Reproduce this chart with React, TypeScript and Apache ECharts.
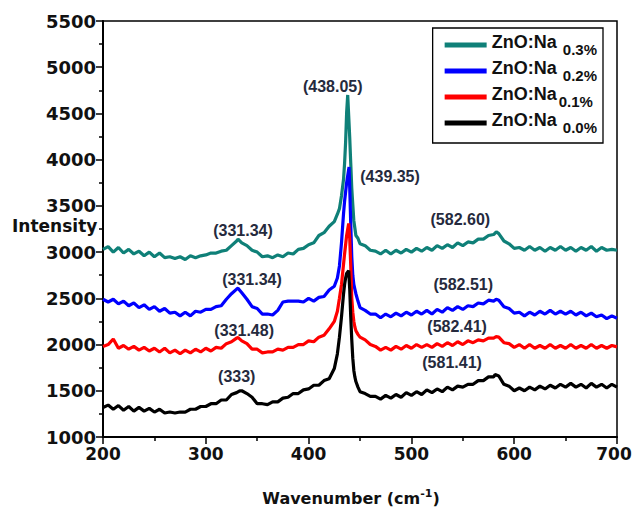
import React, { useEffect, useRef } from "react";
import * as echarts from "echarts";

// Raman shift grid (cm-1), denser around the main E2(high) band
const wavenumber = [
  200, 205, 210, 215, 220, 225, 230, 235, 240, 245,
  250, 255, 260, 265, 270, 275, 280, 285, 290, 295,
  300, 305, 310, 315, 320, 325, 330, 335, 340, 345,
  350, 355, 360, 365, 370, 375, 380, 385, 390, 395,
  400, 405, 410, 415, 420, 425,
  428, 430, 432, 434, 435, 436, 437, 440, 441, 442, 443, 444, 445, 446, 448, 450,
  455, 460, 465, 470, 475, 480, 485, 490, 495, 500,
  505, 510, 515, 520, 525, 530, 535, 540, 545, 550,
  555, 560, 565, 570, 575, 580, 585, 590, 595, 600,
  605, 610, 615, 620, 625, 630, 635, 640, 645, 650,
  655, 660, 665, 670, 675, 680, 685, 690, 695, 700,
];

// Intensities on the grid above, one array per Na content
const na03 = [
  3030, 3060, 3000, 3050, 2990, 3030, 2980, 3010, 2960, 3000,
  2950, 2990, 2940, 2950, 2930, 2950, 2920, 2960, 2940, 2960,
  2970, 2990, 2990, 3010, 3020, 3070, 3120, 3100, 3070, 3020,
  3000, 2950, 2960, 2940, 2970, 2950, 2990, 2980, 3030, 3040,
  3080, 3100, 3180, 3210, 3280, 3330,
  3410, 3470, 3610, 3790, 3960, 4190, 4510, 4240, 3960, 3690, 3510, 3340, 3260, 3180, 3150, 3090,
  3070, 3020, 3010, 2980, 3020, 2980, 3020, 2990, 3030, 3000,
  3040, 3010, 3050, 3020, 3070, 3040, 3080, 3050, 3100, 3070,
  3110, 3100, 3140, 3140, 3180, 3190, 3200, 3120, 3090, 3040,
  3050, 3020, 3060, 3020, 3050, 3010, 3050, 3020, 3060, 3020,
  3050, 3010, 3050, 3020, 3060, 3010, 3050, 3020, 3030, 3020,
];

const na02 = [
  2490, 2460, 2490, 2440, 2470, 2420, 2450, 2400, 2430, 2380,
  2410, 2360, 2390, 2340, 2350, 2310, 2350, 2310, 2360, 2350,
  2380, 2380, 2410, 2420, 2490, 2550, 2600, 2560, 2490, 2410,
  2390, 2330, 2330, 2320, 2370, 2460, 2470, 2470, 2470, 2460,
  2500, 2470, 2510, 2520, 2590, 2630,
  2720, 2850, 3100, 3420, 3550, 3650, 3750, 3700, 3300, 2950, 2750, 2650, 2600, 2550, 2470, 2400,
  2370, 2330, 2330, 2290, 2330, 2300, 2340, 2310, 2350, 2320,
  2360, 2330, 2370, 2330, 2380, 2350, 2400, 2370, 2410, 2380,
  2420, 2410, 2450, 2440, 2480, 2470, 2480, 2410, 2390, 2340,
  2350, 2310, 2350, 2320, 2360, 2330, 2370, 2330, 2360, 2330,
  2360, 2320, 2350, 2310, 2340, 2300, 2320, 2280, 2310, 2285,
];

const na01 = [
  1980, 2000, 2060, 1960, 1990, 1950, 1980, 1940, 1970, 1930,
  1960, 1920, 1960, 1910, 1940, 1900, 1940, 1910, 1950, 1920,
  1960, 1930, 1970, 1960, 2010, 2030, 2070, 2040, 2010, 1950,
  1950, 1910, 1920, 1920, 1950, 1940, 1970, 1970, 2000, 2000,
  2040, 2030, 2080, 2100, 2170, 2250,
  2360, 2500, 2650, 2870, 2980, 3080, 3180, 3150, 2850, 2500, 2350, 2250, 2190, 2150, 2110, 2080,
  2050, 2000, 1980, 1940, 1970, 1940, 1980, 1950, 1990, 1960,
  2000, 1970, 2000, 1970, 2010, 1980, 2020, 1990, 2030, 2000,
  2040, 2020, 2050, 2040, 2070, 2070, 2080, 2020, 2010, 1970,
  2000, 1960, 2000, 1960, 1990, 1960, 2000, 1960, 1990, 1960,
  2000, 1960, 1990, 1960, 2000, 1960, 1990, 1960, 1990, 1975,
];

const na00 = [
  1320, 1345, 1300, 1340, 1290, 1330, 1280, 1320, 1280, 1310,
  1270, 1300, 1260, 1270, 1260, 1270, 1270, 1300, 1300, 1330,
  1330, 1360, 1360, 1400, 1400, 1460, 1480, 1500, 1470, 1430,
  1360, 1360, 1350, 1380, 1380, 1420, 1430, 1470, 1470, 1510,
  1520, 1560, 1560, 1610, 1630, 1740,
  1900, 2080, 2300, 2550, 2650, 2720, 2770, 2600, 2300, 2050, 1850, 1720, 1650, 1600, 1540, 1490,
  1470, 1440, 1440, 1410, 1450, 1420, 1460, 1430, 1480, 1450,
  1490, 1460, 1510, 1480, 1520, 1490, 1540, 1510, 1550, 1540,
  1570, 1570, 1610, 1610, 1650, 1650, 1660, 1570, 1550, 1500,
  1530, 1500, 1540, 1510, 1550, 1520, 1560, 1530, 1570, 1540,
  1580, 1540, 1570, 1530, 1580, 1540, 1570, 1530, 1570, 1540,
];

// Band maxima: position (cm-1) and intensity
const na03PeakAt = ["331.34", "438.05", "582.60"];
const na03PeakHeight = [3140, 4700, 3220];
const na02PeakAt = ["331.34", "439.35", "582.51"];
const na02PeakHeight = [2610, 3920, 2490];
const na01PeakAt = ["331.48", "439", "582.41"];
const na01PeakHeight = [2075, 3310, 2085];
const na00PeakAt = ["333", "439", "581.41"];
const na00PeakHeight = [1500, 2800, 1675];

const naContent = ["0.3%", "0.2%", "0.1%", "0.0%"];

// Axis ticks
const xTicks = { min: 200, max: 700, step: 100 };
const yTicks = { min: 1000, max: 5500, step: 500 };

// Styling per curve: colour, label offsets (null = no label), legend spacing
const curveStyles = [
  { color: "#0f8078", offsets: [[5, -9], [-15, -8], [-36, -12]], gap: " " },
  { color: "#0000ff", offsets: [[14, -9], [41, 9], [-33, -15]], gap: " " },
  { color: "#ff0000", offsets: [[6, -7], null, [-39, -10]], gap: "" },
  { color: "#000000", offsets: [[-3, -14], null, [-43, -12]], gap: " " },
];

function mergeCurve(values: number[], peakAt: string[], peakHeight: number[]) {
  const pts: number[][] = wavenumber.map((x, i) => [x, values[i]]);
  peakAt.forEach((p, i) => pts.push([parseFloat(p), peakHeight[i]]));
  pts.sort((a, b) => a[0] - b[0]);
  return pts;
}

const curves = [
  { values: na03, peakAt: na03PeakAt, peakHeight: na03PeakHeight },
  { values: na02, peakAt: na02PeakAt, peakHeight: na02PeakHeight },
  { values: na01, peakAt: na01PeakAt, peakHeight: na01PeakHeight },
  { values: na00, peakAt: na00PeakAt, peakHeight: na00PeakHeight },
];

const labelFont = "'Liberation Sans', Arial, sans-serif";
const tickFont = "'DejaVu Sans', sans-serif";

export default function App() {
  const ref = useRef<HTMLDivElement>(null);

  useEffect(() => {
    if (!ref.current) return;
    const chart = echarts.init(ref.current, undefined, { renderer: "svg" });

    const series = curves.map((c, k) => {
      const st = curveStyles[k];
      const marks: any[] = [];
      c.peakAt.forEach((p, i) => {
        const off = st.offsets[i];
        if (!off) return;
        marks.push({
          name: p,
          coord: [parseFloat(p), c.peakHeight[i]],
          label: { offset: off },
        });
      });
      return {
        name: `ZnO:Na ${naContent[k]}`,
        type: "line",
        data: mergeCurve(c.values, c.peakAt, c.peakHeight),
        showSymbol: false,
        symbol: "none",
        lineStyle: { color: st.color, width: 3.2 },
        itemStyle: { color: st.color },
        z: 2 + k,
        markPoint: {
          symbol: "circle",
          symbolSize: 1,
          silent: true,
          itemStyle: { color: "rgba(0,0,0,0)" },
          label: {
            show: true,
            position: "inside",
            formatter: (p: any) => `(${p.name})`,
            fontFamily: labelFont,
            fontWeight: "bold",
            fontSize: 16,
            color: "#252a3d",
          },
          data: marks,
        },
      };
    });

    chart.setOption({
      animation: false,
      backgroundColor: "#ffffff",
      grid: {
        left: 103,
        right: 16,
        top: 21,
        bottom: 77,
        show: true,
        borderColor: "#000",
        borderWidth: 1.5,
        containLabel: false,
        outerBoundsMode: "none",
      },
      graphic: [
        {
          type: "text",
          x: 12,
          y: 226,
          silent: true,
          style: {
            text: "Intensity",
            fill: "#111",
            fontFamily: tickFont,
            fontWeight: "bold",
            fontSize: 17,
            align: "left",
            verticalAlign: "middle",
          },
        },
      ],
      legend: {
        orient: "vertical",
        right: 30,
        top: 28,
        icon: "rect",
        itemWidth: 42,
        itemHeight: 5,
        itemGap: 2,
        padding: [5, 6, 8, 12],
        borderColor: "#000",
        borderWidth: 1.3,
        backgroundColor: "#fff",
        data: series.map((s) => s.name),
        formatter: (name: string) => {
          const k = series.findIndex((s) => s.name === name);
          return `{a|ZnO:Na}{b|${curveStyles[k].gap}${naContent[k]}}`;
        },
        textStyle: {
          rich: {
            a: {
              fontFamily: labelFont,
              fontWeight: "bold",
              fontSize: 18,
              lineHeight: 20,
              color: "#111",
              padding: [0, 0, 6, 0],
            },
            b: {
              fontFamily: labelFont,
              fontWeight: "bold",
              fontSize: 15,
              lineHeight: 16,
              color: "#111",
              padding: [8, 0, 0, 2],
            },
          },
        },
      },
      xAxis: {
        type: "value",
        min: xTicks.min,
        max: xTicks.max,
        interval: xTicks.step,
        name: "Wavenumber (cm{sup|-1})",
        nameLocation: "middle",
        nameGap: 51,
        nameTextStyle: {
          fontFamily: tickFont,
          fontWeight: "bold",
          fontSize: 16,
          color: "#111",
          padding: [0, 18, 0, 0],
          rich: {
            sup: {
              fontFamily: tickFont,
              fontWeight: "bold",
              fontSize: 11,
              color: "#111",
              padding: [0, 0, 10, 0],
            },
          },
        },
        axisLine: { lineStyle: { color: "#000", width: 2 } },
        axisTick: { show: true, length: 7, inside: false, lineStyle: { color: "#000", width: 1.5 } },
        minorTick: { show: true, splitNumber: 2, length: 4, lineStyle: { color: "#000", width: 1.5 } },
        axisLabel: {
          fontFamily: tickFont,
          fontWeight: "bold",
          fontSize: 17,
          color: "#111",
          margin: 8,
          // last label nudged left so it stays inside the canvas
          formatter: (v: number) => (v === xTicks.max ? `{edge|${v}}` : String(v)),
          rich: {
            edge: {
              fontFamily: tickFont,
              fontWeight: "bold",
              fontSize: 17,
              color: "#111",
              padding: [0, 6, 0, 0],
            },
          },
        },
        splitLine: { show: false },
      },
      yAxis: {
        type: "value",
        min: yTicks.min,
        max: yTicks.max,
        interval: yTicks.step,
        axisLine: { lineStyle: { color: "#000", width: 2 } },
        axisTick: { show: true, length: 7, inside: false, lineStyle: { color: "#000", width: 1.5 } },
        minorTick: { show: true, splitNumber: 2, length: 4, lineStyle: { color: "#000", width: 1.5 } },
        axisLabel: {
          fontFamily: tickFont,
          fontWeight: "bold",
          fontSize: 18,
          color: "#111",
          margin: 7,
          formatter: (v: number) => String(v),
        },
        splitLine: { show: false },
      },
      series,
    });

    return () => chart.dispose();
  }, []);

  return (
    <div
      ref={ref}
      style={{ position: "fixed", left: 0, top: 0, width: 633, height: 514, background: "#fff" }}
    />
  );
}
